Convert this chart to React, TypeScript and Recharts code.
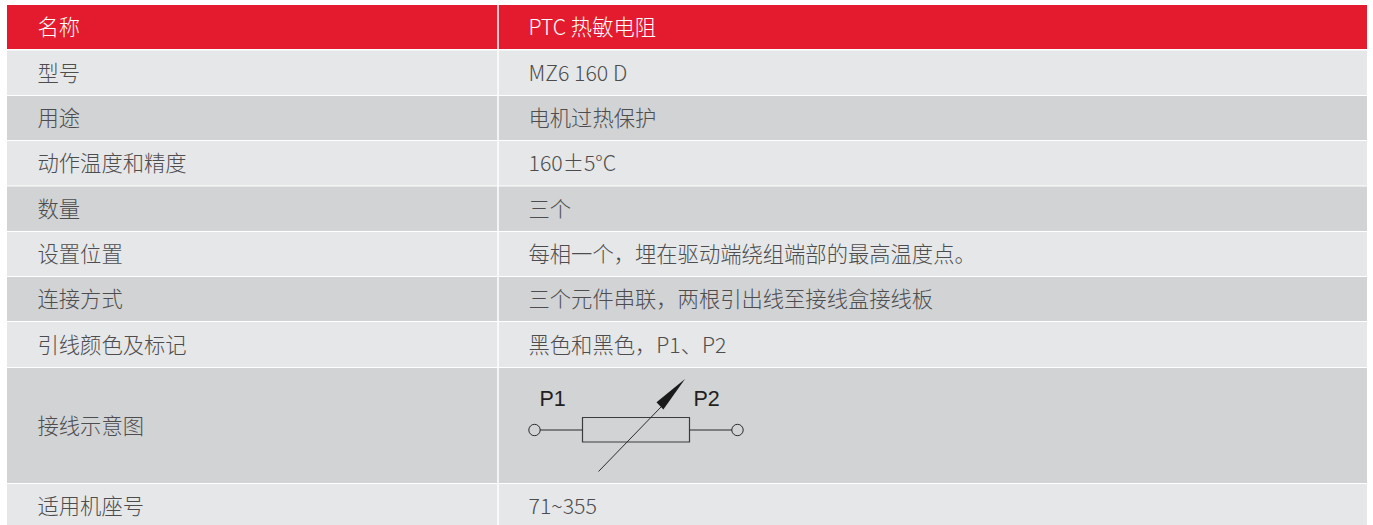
import { ReferenceArea, ReferenceDot, ReferenceLine, Scatter, ScatterChart, XAxis, YAxis } from 'recharts';

const WIDTH = 1373;
const HEIGHT = 525;

const NAMES = ['名称', '型号', '用途', '动作温度和精度', '数量', '设置位置', '连接方式', '引线颜色及标记', '接线示意图', '适用机座号'];
const VALUES = [
  'PTC 热敏电阻',
  'MZ6 160 D',
  '电机过热保护',
  '160±5°C',
  '三个',
  '每相一个，埋在驱动端绕组端部的最高温度点。',
  '三个元件串联，两根引出线至接线盒接线板',
  '黑色和黑色，P1、P2',
  '',
  '71~355'
];
// top and bottom edge of every row, read in picture pixels (the axes run 1:1)
const ROW_TOPS = [5, 50.5, 96, 141, 186.5, 232, 277, 322, 368, 484];
const ROW_BOTTOMS = [49, 95, 140, 185.5, 231, 276, 321, 367, 483, 525];
const TEXT_CENTERS = [27, 73.5, 118.5, 163.5, 209, 254, 299, 345, 426, 506];
const TABLE_X = [7, 1367];
const COLUMN_X = [37.5, 528.5];
const DIVIDER_X = 498;

// wiring symbol in the ninth row
const WIRES = [
  [[540, 430], [582.5, 430]],
  [[689.5, 430], [732, 430]],
  [[598.5, 471.5], [661, 407]]
];
const TERMINALS = [[534.5, 430], [737.5, 430]];
const RESISTOR_X = [582.5, 689.5];
const RESISTOR_Y = [417.5, 442];
const ARROW_X = [656.5, 685];
const ARROW_Y = [379, 409.5];
const SYMBOL_LABELS = [
  { x: 539.5, y: 399, text: 'P1' },
  { x: 693.5, y: 399, text: 'P2' }
];

const cellData = NAMES.flatMap((name, i) => [
  { x: COLUMN_X[0], y: TEXT_CENTERS[i], text: name, row: i },
  { x: COLUMN_X[1], y: TEXT_CENTERS[i], text: VALUES[i], row: i }
]);

const rowFill = (i: number): string => {
  if (i === 0) return '#e41b2e';
  return i % 2 === 1 ? '#e6e7e8' : '#d1d3d4';
};

function CellText(props: any): React.JSX.Element {
  const { cx, cy, payload } = props;
  return (
    <text
      x={cx}
      y={cy}
      dy={7.5}
      fontFamily="'Noto Sans CJK SC', 'Noto Sans', sans-serif"
      fontWeight={300}
      fontSize={21.3}
      fill={payload.row === 0 ? '#ffffff' : '#4d4d4f'}
    >
      {payload.text}
    </text>
  );
}

function SymbolText(props: any): React.JSX.Element {
  const { cx, cy, payload } = props;
  return (
    <text x={cx} y={cy} dy={7} fontFamily="'Liberation Sans', Arial, sans-serif" fontSize={21.5} fill="#231f20">
      {payload.text}
    </text>
  );
}

function ArrowHead(props: any): React.JSX.Element {
  const { x, y, width, height } = props;
  const points = [
    [x + width, y],
    [x, y + height * 0.76],
    [x + width * 0.24, y + height]
  ];
  return <polygon points={points.map((p) => p.join(',')).join(' ')} fill="#1a1a1a" />;
}

export default function App(): React.JSX.Element {
  return (
    <div style={{ position: 'absolute', left: 0, top: 0, width: WIDTH, height: HEIGHT, background: '#fff' }}>
      <ScatterChart width={WIDTH} height={HEIGHT} margin={{ top: 0, right: 0, bottom: 0, left: 0 }}>
        <XAxis type="number" dataKey="x" domain={[0, WIDTH]} hide />
        <YAxis type="number" dataKey="y" domain={[0, HEIGHT]} reversed hide />
        {NAMES.map((name, i) => (
          <ReferenceArea
            key={name}
            x1={TABLE_X[0]}
            x2={TABLE_X[1]}
            y1={ROW_TOPS[i]}
            y2={ROW_BOTTOMS[i]}
            fill={rowFill(i)}
            fillOpacity={1}
            stroke="none"
          />
        ))}
        <ReferenceLine x={DIVIDER_X} stroke="#ffffff" strokeWidth={1.5} />
        <ReferenceArea
          x1={RESISTOR_X[0]}
          x2={RESISTOR_X[1]}
          y1={RESISTOR_Y[0]}
          y2={RESISTOR_Y[1]}
          fill="none"
          stroke="#3c3c3c"
          strokeWidth={1.2}
        />
        {WIRES.map((wire, i) => (
          <ReferenceLine
            key={`wire-${i}`}
            segment={[
              { x: wire[0][0], y: wire[0][1] },
              { x: wire[1][0], y: wire[1][1] }
            ]}
            stroke="#2b2b2b"
            strokeWidth={i === 2 ? 1 : 1.2}
          />
        ))}
        {TERMINALS.map((t, i) => (
          <ReferenceDot key={`terminal-${i}`} x={t[0]} y={t[1]} r={5.7} fill="none" stroke="#2b2b2b" strokeWidth={1} />
        ))}
        <ReferenceArea
          x1={ARROW_X[0]}
          x2={ARROW_X[1]}
          y1={ARROW_Y[0]}
          y2={ARROW_Y[1]}
          shape={<ArrowHead />}
        />
        <Scatter data={cellData} shape={<CellText />} isAnimationActive={false} />
        <Scatter data={SYMBOL_LABELS} shape={<SymbolText />} isAnimationActive={false} />
      </ScatterChart>
    </div>
  );
}
